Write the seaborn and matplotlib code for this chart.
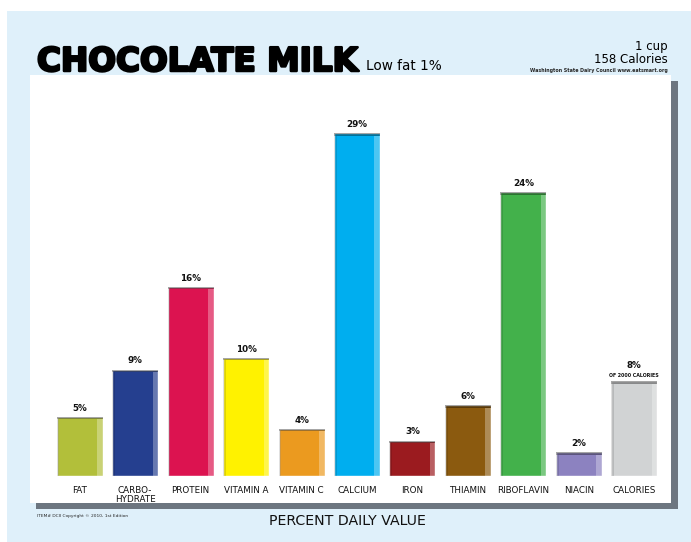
import matplotlib
matplotlib.use("Agg")
import matplotlib.pyplot as plt
import matplotlib.patches as mpatches
import matplotlib.patheffects as pe
import seaborn as sns
import pandas as pd

nutrients = ["FAT", "CARBO-\nHYDRATE", "PROTEIN", "VITAMIN A", "VITAMIN C", "CALCIUM",
             "IRON", "THIAMIN", "RIBOFLAVIN", "NIACIN", "CALORIES"]
percent_dv = [5, 9, 16, 10, 4, 29, 3, 6, 24, 2, 8]
bar_colors = ["#b2bf3a", "#253f8f", "#dc1350", "#fff200", "#eb9a1f", "#00aeef",
              "#9b1b1f", "#8b5a0f", "#43b14b", "#8c82c0", "#d1d3d4"]

df = pd.DataFrame({"nutrient": nutrients, "pct": percent_dv})

sns.set_theme(style="white")
plt.rcParams["font.family"] = ["DejaVu Sans"]

W, H = 691, 542
fig = plt.figure(figsize=(W / 100, H / 100), dpi=100, facecolor="white")

def fx(px):
    return px / W

def fy(py):
    return 1 - py / H

# light blue background
fig.patches.append(mpatches.Rectangle((fx(7), 0), 1 - fx(7), fy(11), transform=fig.transFigure,
                                      facecolor="#dff0fa", edgecolor="none", zorder=-3))
# panel shadow + white panel
fig.patches.append(mpatches.Rectangle((fx(36), fy(509)), fx(642), fy(81) - fy(509),
                                      transform=fig.transFigure, facecolor="#6d7680",
                                      edgecolor="none", zorder=-2))
fig.patches.append(mpatches.Rectangle((fx(30), fy(503)), fx(641), fy(75) - fy(503),
                                      transform=fig.transFigure, facecolor="white",
                                      edgecolor="none", zorder=-1))

ax = fig.add_axes([fx(52), fy(476), fx(662) - fx(52), fy(75) - fy(476)])
ax.set_zorder(2)
ax.patch.set_alpha(0)
sns.barplot(data=df, x="nutrient", y="pct", hue="nutrient", palette=bar_colors,
            width=0.83, legend=False, saturation=1, ax=ax, zorder=3)
ax.set_xlim(-0.5, 10.5)
ax.set_ylim(0, (476 - 75) / 11.83)
for s in ax.spines.values():
    s.set_visible(False)
ax.set_yticks([])
ax.set_xlabel("")
ax.set_ylabel("")
ax.tick_params(axis="x", length=0, pad=7)
for lab in ax.get_xticklabels():
    lab.set_fontsize(6.3)
    lab.set_linespacing(1.1)
    lab.set_verticalalignment("top")
    lab.set_color("#111111")

# bevel: darker top edge and lighter right edge on each bar
for i, bar in enumerate(ax.patches[:len(percent_dv)]):
    x0, w, h = bar.get_x(), bar.get_width(), bar.get_height()
    ax.add_patch(mpatches.Rectangle((x0, h - 0.22), w, 0.22, facecolor="black", alpha=0.35,
                                    edgecolor="none", zorder=4))
    ax.add_patch(mpatches.Rectangle((x0 + w * 0.88, 0), w * 0.12, h - 0.22, facecolor="white",
                                    alpha=0.3, edgecolor="none", zorder=4))
    ax.add_patch(mpatches.Rectangle((x0, 0), w * 0.06, h - 0.22, facecolor="black",
                                    alpha=0.12, edgecolor="none", zorder=4))
    gap = 1.0 if i == len(percent_dv) - 1 else 0.35
    ax.text(i, h + gap, f"{percent_dv[i]}%", ha="center", va="bottom", fontsize=6.3,
            fontweight="bold", color="#111111", zorder=5)

ax.text(10, percent_dv[10] + 0.3, "OF 2000 CALORIES", ha="center", va="bottom",
        fontsize=3.4, fontweight="bold", color="#111111", zorder=5)

# titles
fig.text(fx(37), fy(71), "CHOCOLATE MILK", fontsize=23.5, fontweight="heavy",
         color="black", ha="left", va="baseline", zorder=6,
         path_effects=[pe.withStroke(linewidth=1.8, foreground="black")])
fig.text(fx(366), fy(70), "Low fat 1%", fontsize=9.8, color="black", ha="left",
         va="baseline", zorder=6)
fig.text(fx(668), fy(50), "1 cup", fontsize=8.5, ha="right", va="baseline", color="black",
         zorder=6)
fig.text(fx(668), fy(63), "158 Calories", fontsize=8.5, ha="right", va="baseline",
         color="black", zorder=6)
fig.text(fx(668), fy(72), "Washington State Dairy Council www.eatsmart.org", fontsize=3.4,
         fontweight="bold", ha="right", va="baseline", zorder=6)

fig.text(fx(347), fy(525), "PERCENT DAILY VALUE", fontsize=10.2, ha="center", va="baseline",
         color="#111111", zorder=6)
fig.text(fx(37), fy(517), "ITEM# DCII Copyright \u00a9 2010, 1st Edition", fontsize=3.2,
         ha="left", va="baseline", zorder=6)

fig.savefig("out.png", dpi=100, facecolor="white")
